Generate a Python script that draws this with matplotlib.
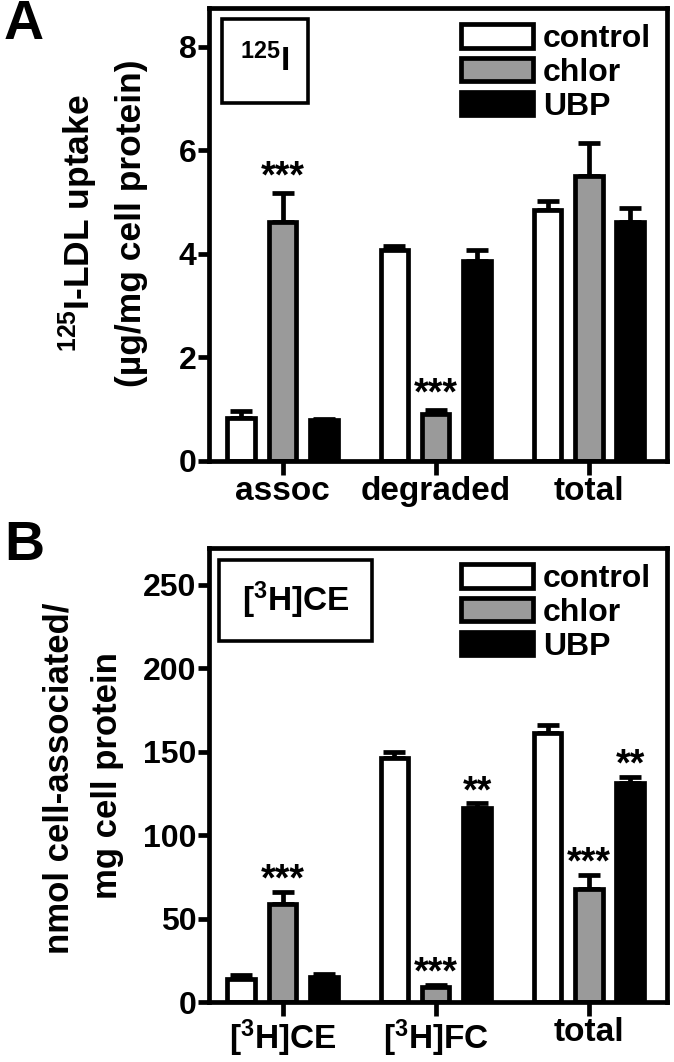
import matplotlib
matplotlib.use('Agg')
import matplotlib.pyplot as plt
import matplotlib.patches as mpatches
import numpy as np

plt.rcParams['font.family'] = ['Liberation Sans', 'DejaVu Sans']
plt.rcParams['font.weight'] = 'bold'
plt.rcParams['mathtext.fontset'] = 'custom'
plt.rcParams['mathtext.rm'] = 'Liberation Sans:bold'
plt.rcParams['mathtext.it'] = 'Liberation Sans:bold'
plt.rcParams['mathtext.bf'] = 'Liberation Sans:bold'

# data
series = ['control', 'chlor', 'UBP']
colors = ['white', '#9a9a9a', 'black']

cats_a = ['assoc', 'degraded', 'total']
vals_a = {'control': [0.84, 4.07, 4.85],
          'chlor': [4.62, 0.9, 5.5],
          'UBP': [0.79, 3.87, 4.62]}
errs_a = {'control': [0.13, 0.08, 0.17],
          'chlor': [0.55, 0.08, 0.65],
          'UBP': [0.02, 0.2, 0.27]}
stars_a = {'chlor': ['***', '***', '']}

cats_b = [r'[$^{3}$H]CE', r'[$^{3}$H]FC', 'total']
vals_b = {'control': [14, 146, 161],
          'chlor': [59, 9, 68],
          'UBP': [15, 116, 131]}
errs_b = {'control': [2, 4, 5],
          'chlor': [7, 1, 8],
          'UBP': [2, 3, 4]}
stars_b = {'chlor': ['***', '***', '***'], 'UBP': ['', '**', '**']}

W, H = 674, 1062
BAR_W = 0.18
OFFSET = 0.27
LW = 3.4

fig = plt.figure(figsize=(W / 100, H / 100), dpi=100)
ax_a = fig.add_axes([209/W, 1-461/H, 458/W, 453/H])
ax_b = fig.add_axes([209/W, 1-1002/H, 458/W, 454/H])


def draw(ax, cats, vals, errs, stars, ymax, yticks, star_off, inset, box):
    x = np.arange(len(cats))
    for i, s in enumerate(series):
        pos = x + (i - 1) * OFFSET
        ax.bar(pos, vals[s], BAR_W, color=colors[i], edgecolor='black',
               linewidth=LW, zorder=2)
        ax.errorbar(pos, vals[s], yerr=[np.zeros(len(cats)), errs[s]],
                    fmt='none', ecolor='black', elinewidth=LW, capsize=8,
                    capthick=LW, zorder=1)
        if s in stars:
            for p, v, e, t in zip(pos, vals[s], errs[s], stars[s]):
                if t:
                    ax.annotate(t, (p, v + e), xytext=(0, star_off),
                                textcoords='offset points', ha='center',
                                va='baseline', fontsize=27, fontweight='bold')
    ax.set_xlim(-0.48, 2.51)
    ax.set_ylim(0, ymax)
    ax.set_yticks(yticks)
    ax.set_xticks(x)
    ax.set_xticklabels(cats)
    for sp in ax.spines.values():
        sp.set_linewidth(LW)
    ax.tick_params(axis='both', width=LW, length=8, labelsize=23, direction='out',
                   pad=1)
    ax.tick_params(axis='x', length=10, pad=1, labelsize=24)
    handles = [mpatches.Patch(facecolor=c, edgecolor='black', linewidth=LW, label=s)
               for s, c in zip(series, colors)]
    ax.legend(handles=handles, loc='upper right', frameon=False, fontsize=23,
              handlelength=2.25, handleheight=0.75, handletextpad=0.3,
              labelspacing=0.12, borderaxespad=0.2, borderpad=0.3)
    x0, y0, x1, y1 = box
    ax.add_patch(mpatches.Rectangle((x0, y0), x1 - x0, y1 - y0,
                                    transform=ax.transAxes, facecolor='white',
                                    edgecolor='black', linewidth=2.6, zorder=3))
    ax.text((x0 + x1) / 2, (y0 + y1) / 2, inset, transform=ax.transAxes,
            fontsize=24, fontweight='bold', va='center', ha='center', zorder=4)


draw(ax_a, cats_a, vals_a, errs_a, stars_a, 8.75, [0, 2, 4, 6, 8], 4,
     r'$^{125}$I', (0.028, 0.79, 0.216, 0.976))
draw(ax_b, cats_b, vals_b, errs_b, stars_b, 272, [0, 50, 100, 150, 200, 250], 1,
     r'[$^{3}$H]CE', (0.022, 0.795, 0.356, 0.974))

# y axis titles, two lines each
fig.text(78/W, 1-223/H, '$^{125}$I-LDL uptake', rotation=90, fontsize=25.5,
         fontweight='bold', ha='center', va='center')
fig.text(131/W, 1-223/H, '(µg/mg cell protein)', rotation=90, fontsize=25.5,
         fontweight='bold', ha='center', va='center')
fig.text(59/W, 1-778/H, 'nmol cell-associated/', rotation=90, fontsize=25,
         fontweight='bold', ha='center', va='center')
fig.text(108/W, 1-776/H, 'mg cell protein', rotation=90, fontsize=25,
         fontweight='bold', ha='center', va='center')

fig.text(24/W, 1-25/H, 'A', fontsize=40, fontweight='bold', ha='center', va='center')
fig.text(24/W, 1-546/H, 'B', fontsize=40, fontweight='bold', ha='center', va='center')

fig.savefig('out.png', dpi=100)
